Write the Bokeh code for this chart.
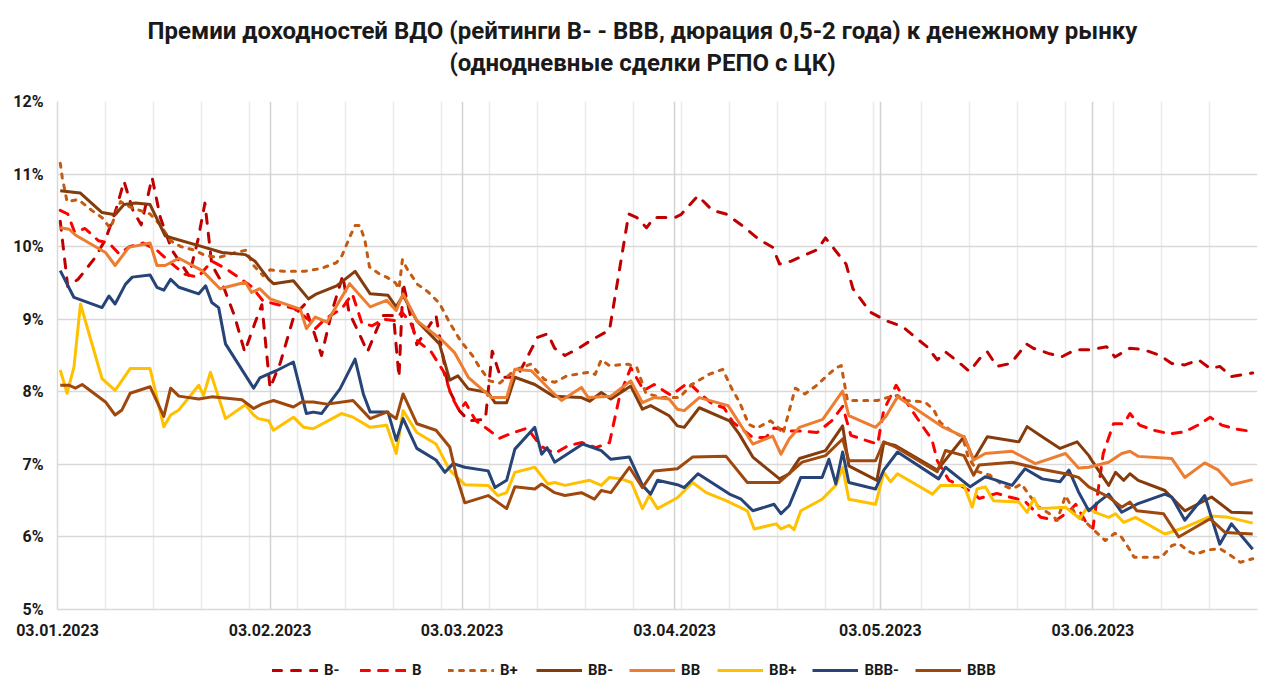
import pandas as pd
from bokeh.plotting import figure
from bokeh.layouts import column
from bokeh.models import FixedTicker, Grid, Legend, LegendItem, Label, Range1d
from bokeh.embed import file_html
from bokeh.resources import INLINE

# ---------------- data ----------------
START = "2023-01-03"
tick_dates = ["2023-01-03", "2023-02-03", "2023-03-03", "2023-04-03", "2023-05-03", "2023-06-03"]
tick_labels = ["03.01.2023", "03.02.2023", "03.03.2023", "03.04.2023", "03.05.2023", "03.06.2023"]
y_ticks = [5, 6, 7, 8, 9, 10, 11, 12]
series_names = ["B-", "B", "B+", "BB-", "BB", "BB+", "BBB-", "BBB"]
title_lines = ["Премии доходностей ВДО (рейтинги B- - BBB, дюрация 0,5-2 года) к денежному рынку",
               "(однодневные сделки РЕПО с ЦК)"]

# (days since 03.01.2023, premium in %)
b_minus = [(0.4, 10.35), (1.5, 9.45), (3, 9.55), (5.5, 9.85), (7, 10.1), (8.5, 10.5), (9.7, 10.9), (11, 10.5),
           (12.2, 10.3), (13.8, 10.95), (15, 10.4), (16.7, 9.95), (19.2, 9.6), (20.5, 10.1), (21.5, 10.6),
           (22.5, 9.75), (24, 9.5), (25.8, 9.05), (27.3, 8.55), (28.8, 8.95), (29.8, 9.2), (31, 8.05),
           (32.5, 8.4), (34.5, 9.05), (36, 9.2), (37.3, 8.85), (38.5, 8.5), (40, 9.1), (41.6, 9.6), (42.5, 9.1),
           (44, 8.8), (45.2, 8.55), (47.4, 9.05), (49, 9.05), (49.8, 8.2), (50.4, 9.5), (52.4, 8.65),
           (55.2, 9.05), (57, 8.05), (58.6, 7.74), (60, 7.6), (62.4, 7.62), (63.4, 8.56), (64.6, 8.2),
           (67, 8.2), (70, 8.75), (71.5, 8.8), (72.5, 8.6), (74, 8.5), (76, 8.6), (78, 8.72), (80.5, 8.85),
           (83.3, 10.45), (84.5, 10.4), (85.9, 10.26), (87, 10.4), (90, 10.4), (90.9, 10.44), (93.4, 10.7),
           (95.5, 10.5), (97.5, 10.45), (100, 10.28), (102.3, 10.1), (104.3, 9.99), (105.3, 9.76), (107, 9.8),
           (110.8, 9.96), (112, 10.12), (113.5, 9.94), (115, 9.76), (116, 9.42), (118.5, 9.1), (120.8, 8.98),
           (123.2, 8.9), (125.5, 8.72), (126.8, 8.62), (128.3, 8.44), (129.5, 8.55), (131.5, 8.4), (133, 8.28),
           (134.5, 8.46), (135.6, 8.55), (137, 8.35), (139, 8.39), (141.3, 8.66), (142.3, 8.6), (144.5, 8.53),
           (146.4, 8.48), (148.5, 8.58), (150.7, 8.58), (153, 8.62), (154.2, 8.48), (156.4, 8.6), (158.4, 8.58),
           (160.8, 8.5), (162.5, 8.39), (164.4, 8.37), (166.4, 8.44), (168.1, 8.32), (169.5, 8.35),
           (171.2, 8.21), (174.3, 8.26)]

b_mid = [(0.4, 10.5), (1.5, 10.45), (2.5, 10.2), (4, 10.25), (6, 10.08), (7.5, 10.05), (9, 9.9), (10.5, 10.0),
         (12.5, 10.05), (14.5, 9.95), (16.5, 9.78), (18.5, 9.62), (20.5, 9.58), (22.5, 9.8), (24.5, 9.7),
         (26.8, 9.55), (28.3, 9.45), (30, 9.25), (32.2, 9.2), (34.5, 9.15), (36.8, 8.98), (37.6, 8.87),
         (39, 9.0), (41.5, 9.15), (43, 9.35), (44.4, 8.94), (45.9, 8.91), (47.5, 9.0), (49.3, 8.98),
         (50.2, 9.1), (51.5, 8.95), (52.5, 8.7), (54.5, 8.55), (56.3, 8.28), (57.5, 7.93), (58.6, 7.74),
         (59.5, 7.85), (61, 7.6), (62.5, 7.5), (64.5, 7.36), (66, 7.42), (68.5, 7.5), (70.5, 7.25),
         (72.5, 7.15), (74.5, 7.26), (76.5, 7.3), (78.5, 7.23), (80.5, 7.3), (82, 7.95), (83.6, 8.33),
         (85.5, 8.02), (87, 8.1), (89.5, 7.95), (92, 8.13), (93.8, 7.97), (95.5, 7.83), (97.2, 7.78),
         (98.5, 7.58), (101.4, 7.37), (103.3, 7.37), (104.5, 7.5), (106.8, 7.46), (108.6, 7.46),
         (110.8, 7.44), (112.9, 7.6), (114.5, 7.8), (115.7, 7.4), (117.9, 7.33), (119.6, 7.28),
         (120.5, 7.75), (122.3, 8.09), (124.2, 7.8), (126.5, 7.48), (127.5, 7.35), (128.3, 7.05),
         (130, 6.78), (131.7, 6.71), (133.6, 6.6), (134.4, 6.53), (137, 6.6), (138.8, 6.55), (141, 6.5),
         (143.4, 6.27), (145.6, 6.23), (147.5, 6.35), (148.5, 6.45), (150, 6.2), (151, 6.12), (152.5, 7.15),
         (154, 7.56), (155.5, 7.56), (156.4, 7.7), (157.8, 7.54), (159.9, 7.47), (162.3, 7.42),
         (164.4, 7.45), (166.3, 7.54), (168.1, 7.65), (169.8, 7.54), (171.7, 7.49), (174.3, 7.45)]

b_plus = [(0.4, 11.15), (0.7, 10.95), (1.4, 10.62), (3, 10.65), (5, 10.5), (6.5, 10.4), (7.7, 10.25),
          (9.2, 10.62), (10.5, 10.55), (12, 10.5), (13.5, 10.45), (15, 10.3), (16.5, 10.08), (18, 10.0),
          (20, 9.95), (21.5, 9.88), (23.5, 9.85), (26, 9.92), (27.5, 9.95), (28.5, 9.75), (30, 9.6),
          (31, 9.68), (33, 9.66), (36, 9.66), (38.5, 9.7), (40.7, 9.78), (41.5, 9.88), (42.7, 10.15),
          (43.4, 10.29), (44.1, 10.29), (44.8, 10.1), (45.5, 9.72), (47, 9.62), (48, 9.58), (49.3, 9.5),
          (49.8, 9.42), (50.3, 9.82), (51, 9.69), (52.5, 9.48), (54, 9.38), (55.7, 9.22), (57.2, 8.95),
          (58.8, 8.7), (60.5, 8.5), (61.6, 8.33), (63, 8.15), (64.5, 8.12), (66.7, 8.3), (69, 8.38),
          (71, 8.17), (72.5, 8.13), (74.3, 8.22), (77.5, 8.27), (78.4, 8.24), (79.3, 8.44), (80.5, 8.36),
          (83.2, 8.38), (84.5, 8.33), (85.8, 7.98), (88, 7.92), (90.7, 7.92), (92.5, 8.1), (95, 8.24),
          (97, 8.31), (98.3, 8.05), (99.5, 7.85), (100.8, 7.55), (102, 7.5), (104, 7.6), (105.2, 7.5),
          (105.8, 7.42), (107.6, 8.05), (109, 7.97), (110.6, 8.08), (112, 8.2), (113.5, 8.33), (114.3, 8.36),
          (115.2, 7.88), (119.6, 7.88), (121, 7.92), (122.5, 7.95), (123.5, 7.88), (126.5, 7.86),
          (127.8, 7.75), (128.7, 7.58), (130.5, 7.45), (132, 7.38), (132.8, 7.1), (134.2, 6.9), (136, 6.85),
          (137.9, 6.71), (139.2, 6.66), (140.6, 6.73), (141.6, 6.59), (143, 6.42), (145, 6.3), (145.8, 6.23),
          (147, 6.57), (148.4, 6.32), (150, 6.2), (151.3, 6.08), (152.8, 5.95), (154.2, 6.05), (155, 6.02),
          (156, 5.88), (157, 5.72), (161, 5.72), (162.5, 5.88), (163.5, 5.91), (165, 5.8), (166, 5.76),
          (167.7, 5.82), (169.5, 5.84), (171, 5.75), (172.5, 5.65), (174.3, 5.7)]

bb_minus = [(0.4, 10.77), (3.3, 10.74), (6.5, 10.47), (8.4, 10.44), (9.7, 10.58), (11.4, 10.6), (13.5, 10.58),
            (15.7, 10.15), (16.7, 10.12), (21.1, 10.0), (24, 9.92), (27.4, 9.89), (28.8, 9.8), (30.8, 9.55),
            (31.5, 9.49), (34.4, 9.53), (36.6, 9.28), (37.8, 9.35), (40.7, 9.46), (43.4, 9.66), (45.6, 9.35),
            (48.2, 9.33), (49.4, 9.17), (50.4, 9.33), (52.4, 8.98), (55.7, 8.66), (57.2, 8.16), (58.4, 8.22),
            (59.9, 8.04), (62.8, 7.99), (63.8, 7.85), (65.5, 7.85), (66.7, 8.2), (69.6, 8.1), (72.3, 7.94),
            (76.4, 7.92), (77.6, 7.87), (79.3, 7.99), (80.7, 7.9), (83.6, 8.08), (85.3, 7.76), (86.5, 7.81),
            (89.2, 7.67), (90.4, 7.53), (91.4, 7.51), (93.6, 7.78), (98, 7.6), (99.4, 7.42), (101.4, 7.1),
            (105.3, 6.8), (106.7, 6.87), (108.2, 7.08), (112, 7.19), (114.5, 7.53), (115.4, 6.98),
            (119.5, 6.78), (120.5, 7.3), (122.2, 7.26), (128.3, 6.92), (132.2, 7.38), (133.6, 7.06),
            (135.6, 7.38), (140.2, 7.31), (141.4, 7.52), (143.6, 7.38), (146.2, 7.22), (148.7, 7.31),
            (150.4, 7.12), (151, 7.03), (153.3, 6.71), (154.3, 6.89), (155.5, 6.78), (156.4, 6.87),
            (157.6, 6.78), (161.5, 6.64), (164.4, 6.36), (168.3, 6.55), (171.2, 6.34), (174.3, 6.33)]

bb_mid = [(0.4, 10.26), (1.7, 10.24), (2.6, 10.16), (7, 9.92), (8.4, 9.74), (10.4, 9.99), (13.5, 10.05),
          (14.5, 9.74), (15.7, 9.74), (17.7, 9.84), (21.1, 9.67), (23.7, 9.42), (27.4, 9.51), (28.3, 9.37),
          (29.5, 9.42), (31, 9.28), (35.4, 9.14), (36.3, 8.87), (37.6, 9.03), (39.3, 8.96), (42.6, 9.49),
          (45.6, 9.17), (48, 9.26), (49.4, 9.12), (50.4, 9.35), (52.4, 8.98), (56.1, 8.71), (57.9, 8.54),
          (59.9, 8.2), (63.3, 7.92), (65.5, 7.92), (66.7, 8.31), (69.1, 8.29), (72, 8.01), (73.5, 7.88),
          (76.4, 8.06), (77.4, 7.92), (80.7, 7.94), (83.6, 8.15), (85.3, 7.85), (87, 7.92), (89.2, 7.9),
          (90.4, 7.76), (91.4, 7.74), (93.6, 7.92), (97.8, 7.81), (101.4, 7.28), (104.3, 7.39),
          (105.5, 7.14), (106.7, 7.35), (108.2, 7.51), (111.6, 7.62), (114.5, 8.01), (115.4, 7.67),
          (119.3, 7.51), (120.8, 7.66), (122.5, 7.93), (129, 7.52), (132.2, 7.38), (133.6, 7.06),
          (135.3, 7.15), (139.2, 7.18), (142.6, 7.01), (147, 7.15), (148.9, 6.95), (150.4, 6.96),
          (153.3, 7.03), (155.2, 7.15), (156.4, 7.18), (157.6, 7.11), (162.5, 7.08), (164.4, 6.82),
          (167.3, 7.02), (169.3, 6.92), (171.2, 6.72), (174.3, 6.79)]

bb_plus = [(0.4, 8.3), (1.4, 7.98), (2.4, 8.34), (3.35, 9.21), (6.5, 8.18), (8.4, 8.02), (10.6, 8.32),
           (13.5, 8.32), (15.5, 7.52), (16.5, 7.68), (17.7, 7.75), (20.6, 8.09), (21.3, 7.95), (22.3, 8.27),
           (24.5, 7.63), (27.4, 7.82), (28.6, 7.68), (29.3, 7.63), (30.8, 7.6), (31.5, 7.47), (34.4, 7.65),
           (35.9, 7.51), (37.3, 7.49), (41.4, 7.7), (43.1, 7.65), (45.6, 7.51), (48, 7.54), (49.4, 7.15),
           (50.4, 7.74), (52.4, 7.44), (55.2, 7.28), (57.2, 6.92), (59.4, 6.72), (62.8, 6.71), (64.2, 6.57),
           (65.5, 6.61), (66.7, 6.89), (69.6, 6.96), (71.5, 6.73), (72.5, 6.75), (74, 6.71), (77.6, 6.78),
           (79.3, 6.71), (80.5, 6.82), (82.2, 6.8), (83.7, 6.75), (85.3, 6.39), (86.3, 6.57), (87.5, 6.39),
           (90.4, 6.54), (92.6, 6.75), (94.6, 6.61), (97.5, 6.5), (100.6, 6.36), (101.6, 6.11), (104.8, 6.18),
           (105.5, 6.11), (106.7, 6.16), (107.4, 6.1), (108.4, 6.36), (111.5, 6.52), (113.5, 6.71),
           (114.5, 6.96), (115.4, 6.52), (119.3, 6.45), (120.5, 6.89), (121.5, 6.76), (122.5, 6.87),
           (127.6, 6.59), (128.8, 6.71), (132.2, 6.71), (133.4, 6.41), (134.1, 6.66), (135.3, 6.69),
           (136.5, 6.5), (140.2, 6.48), (141.4, 6.34), (142.4, 6.53), (143.1, 6.39), (147, 6.41),
           (149.1, 6.25), (150.1, 6.4), (151.8, 6.32), (153.3, 6.27), (154.3, 6.32), (155.5, 6.2),
           (157.2, 6.27), (161.5, 6.04), (164.4, 6.13), (168.3, 6.29), (170.8, 6.27), (174.3, 6.19)]

bbb_minus = [(0.4, 9.67), (2.4, 9.3), (6.5, 9.16), (7.5, 9.32), (8.4, 9.21), (9.9, 9.48), (10.9, 9.58),
             (13.5, 9.61), (14.5, 9.44), (15.5, 9.4), (16.5, 9.55), (17.7, 9.44), (20.6, 9.35), (21.6, 9.46),
             (22.5, 9.23), (23.5, 9.16), (24.5, 8.66), (28.6, 8.05), (29.5, 8.19), (31.9, 8.29), (34.4, 8.41),
             (36.3, 7.7), (37.3, 7.72), (38.5, 7.7), (41.2, 8.04), (43.4, 8.45), (44.6, 7.97), (45.6, 7.72),
             (48.2, 7.72), (49.4, 7.33), (50.4, 7.63), (52.4, 7.22), (55.2, 7.06), (56.5, 6.89), (57.7, 7.01),
             (59.4, 6.96), (62.8, 6.91), (63.8, 6.68), (65.5, 6.78), (66.7, 7.21), (69.6, 7.51), (70.6, 7.14),
             (71.4, 7.23), (72.5, 7.03), (76.6, 7.28), (79.3, 7.19), (80.7, 7.07), (83.4, 7.1), (85.3, 6.71),
             (86.5, 6.59), (87.5, 6.78), (90.4, 6.72), (91.4, 6.68), (93.4, 6.87), (98, 6.59), (99.7, 6.52),
             (101.4, 6.36), (104.5, 6.45), (105.5, 6.32), (106.7, 6.43), (108.4, 6.82), (111.5, 6.82),
             (112.5, 7.07), (113.5, 6.73), (114.5, 7.17), (115.4, 6.75), (119.3, 6.66), (120.5, 6.92),
             (122.5, 7.17), (128.5, 6.8), (129.5, 6.96), (133.1, 6.69), (135.3, 6.83), (139.2, 6.71),
             (141.1, 6.94), (143.6, 6.8), (146.2, 6.76), (147.5, 6.92), (148.9, 6.62), (150.4, 6.36),
             (151.8, 6.48), (153.3, 6.59), (155.2, 6.34), (157.6, 6.46), (161.5, 6.59), (162.5, 6.55),
             (164.4, 6.23), (167.3, 6.57), (169.5, 5.9), (171.2, 6.18), (174.3, 5.83)]

bbb_mid = [(0.4, 8.09), (1.7, 8.09), (2.6, 8.05), (3.6, 8.1), (7, 7.86), (8.4, 7.68), (9.4, 7.75), (10.6, 7.98),
           (13.5, 8.07), (15.5, 7.66), (16.5, 8.05), (17.7, 7.94), (20.6, 7.9), (22.5, 7.93), (26.9, 7.89),
           (28.6, 7.77), (29.8, 7.83), (31.5, 7.88), (34.4, 7.79), (35.6, 7.86), (37.3, 7.86), (39.3, 7.83),
           (43.1, 7.88), (45.6, 7.63), (48, 7.72), (49.4, 7.63), (50.4, 7.97), (52.4, 7.56), (55.2, 7.47),
           (57.2, 7.24), (58.2, 6.83), (59.4, 6.47), (62.8, 6.57), (65.5, 6.39), (66.7, 6.69), (69.6, 6.66),
           (70.6, 6.73), (72.5, 6.61), (74, 6.57), (76.4, 6.61), (78.3, 6.52), (79.3, 6.64), (80.7, 6.61),
           (83.4, 6.96), (85.3, 6.68), (87, 6.91), (90.4, 6.94), (92.6, 7.1), (97.5, 7.11), (100.6, 6.75),
           (105.2, 6.75), (108.6, 7.03), (112, 7.12), (114.5, 7.35), (115.4, 7.05), (119.3, 7.05),
           (120.5, 7.31), (122.2, 7.24), (128.3, 6.9), (129.5, 7.19), (132.2, 7.12), (133.6, 6.85),
           (134.4, 6.99), (139.2, 7.03), (143.1, 6.94), (147, 6.87), (148.9, 6.82), (150.4, 6.69),
           (153.3, 6.55), (155.2, 6.41), (156.4, 6.48), (157.4, 6.36), (161.3, 6.32), (163.5, 6.0),
           (168.1, 6.25), (170.3, 6.06), (174.3, 6.04)]

series_data = [b_minus, b_mid, b_plus, bb_minus, bb_mid, bb_plus, bbb_minus, bbb_mid]

# ---------------- styles ----------------
colors = ["#C00000", "#FF0000", "#C55A11", "#843C0C", "#ED7D31", "#FFC000", "#264478", "#9E480E"]
dashes = ["9 10", "9 9", "4 7", "solid", "solid", "solid", "solid", "solid"]
FONT = "Roboto"
TXT = "#1a1a1a"
W = 1278
TITLE_H = 84
LEGEND_H = 40


def blank(height, y0=0):
    f = figure(width=W, height=height, x_range=Range1d(0, W), y_range=Range1d(y0, y0 + height),
               x_axis_type=None, y_axis_type=None, output_backend="svg", toolbar_location=None,
               min_border=0)
    f.outline_line_color = None
    f.background_fill_color = "white"
    f.border_fill_color = "white"
    return f


def split(data):
    return [d for d, v in data], [v for d, v in data]


# ---- title block ----
pt = blank(TITLE_H)
for txt, y in zip(title_lines, (TITLE_H - 30, TITLE_H - 62)):
    pt.add_layout(Label(x=623, y=y, text=txt, text_align="center", text_baseline="middle",
                        text_font=FONT, text_font_size="24px", text_font_style="bold", text_color=TXT))

# ---- main chart ----
tick_pos = [int((pd.Timestamp(d) - pd.Timestamp(START)).days) for d in tick_dates]
week_pos = list(range(7, 176, 7))

p = figure(frame_width=1200, frame_height=508, x_range=Range1d(0, 175), y_range=Range1d(5, 12),
           output_backend="svg", toolbar_location=None, title=None,
           min_border_left=57, min_border_right=21, min_border_top=101 - TITLE_H, min_border_bottom=38)
p.outline_line_color = None
p.background_fill_color = "white"
p.border_fill_color = "white"

p.xgrid.ticker = FixedTicker(ticks=week_pos)
p.xgrid.grid_line_color = "#EBEBEB"
p.xgrid.grid_line_width = 1.5
month_grid = Grid(dimension=0, ticker=FixedTicker(ticks=tick_pos), grid_line_color="#D2D2D2",
                  grid_line_width=1.5)
p.add_layout(month_grid)
p.ygrid.ticker = FixedTicker(ticks=y_ticks)
p.ygrid.grid_line_color = "#D9D9D9"
p.ygrid.grid_line_width = 1.5

p.xaxis.ticker = FixedTicker(ticks=tick_pos)
p.xaxis.major_label_overrides = {t: lab for t, lab in zip(tick_pos, tick_labels)}
p.yaxis.ticker = FixedTicker(ticks=y_ticks)
p.yaxis.major_label_overrides = {t: f"{t}%" for t in y_ticks}
for ax in (p.xaxis, p.yaxis):
    ax.axis_line_color = "#D9D9D9"
    ax.axis_line_width = 1.5
    ax.major_tick_line_color = None
    ax.minor_tick_line_color = None
    ax.major_tick_out = 0
    ax.major_tick_in = 0
    ax.minor_tick_out = 0
    ax.major_label_text_font = FONT
    ax.major_label_text_font_size = "16px"
    ax.major_label_text_font_style = "bold"
    ax.major_label_text_color = TXT
p.xaxis.major_label_standoff = 14
p.yaxis.major_label_standoff = 14

for data, col, dash in zip(series_data, colors, dashes):
    xs, ys = split(data)
    p.line(xs, ys, line_color=col, line_width=3, line_dash=dash,
           line_cap="round" if dash != "solid" else "butt", line_join="round")

# ---- legend block: same series, drawn outside this strip's visible range, only legend shows ----
pl = blank(LEGEND_H, y0=100)
items = []
for name, data, col, dash in zip(series_names, series_data, colors, dashes):
    xs, ys = split(data)
    r = pl.line(xs, ys, line_color=col, line_width=3, line_dash=dash,
                line_cap="round" if dash != "solid" else "butt")
    items.append(LegendItem(label=name, renderers=[r]))
legend = Legend(items=items, orientation="horizontal", location=(215, 8),
                glyph_width=46, glyph_height=16, label_height=16, label_standoff=6, spacing=16,
                label_text_font=FONT, label_text_font_size="15px", label_text_font_style="bold",
                label_text_color=TXT, border_line_color=None, background_fill_alpha=0,
                margin=0, padding=4)
pl.add_layout(legend)

layout = column(pt, p, pl, spacing=0)
open("out.html", "w").write(file_html(layout, INLINE))
